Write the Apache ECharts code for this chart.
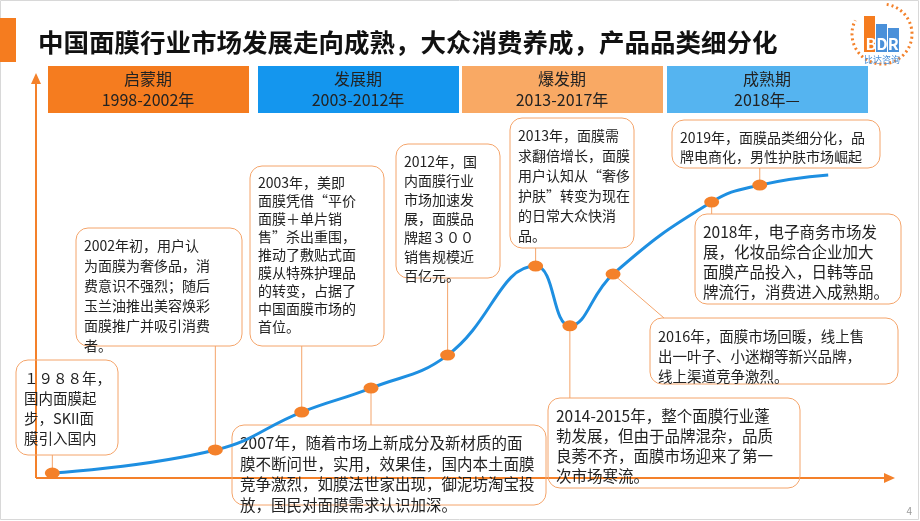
<!DOCTYPE html>
<html><head><meta charset="utf-8">
<script src="https://cdn.jsdelivr.net/npm/echarts@6/dist/echarts.min.js"></script>
<style>html,body{margin:0;padding:0;background:#fff}#main{width:920px;height:521px}</style>
</head><body><div id="main"></div>
<script>
// 时间轴位置 (0-100) 与 市场发展程度 (0-100)
var timelinePos = [0.9, 20.9, 31.5, 40, 49.4, 60.2, 64.4, 69.7, 81.8, 87.7, 96.1];
var marketLevel = [1.6, 9.1, 21.4, 29.2, 39.9, 68.8, 49.4, 66.2, 89.6, 95.1, 98.4];
var stageNames = ['启蒙期', '发展期', '爆发期', '成熟期'];
var stageYears = ['1998-2002年', '2003-2012年', '2013-2017年', '2018年—'];
var stageColors = ['#F57C1F', '#1496EE', '#F9A964', '#55B4F0'];
// 说明文字，pt 为对应的数据点下标
var notes = [
  {pt: 0, fs: 14.5, lh: 20, box: [16, 360, 102, 95], lines: ['１９８８年，', '国内面膜起', '步，SKII面', '膜引入国内']},
  {pt: 1, fs: 14, lh: 20, box: [76, 228, 166, 118], lines: ['2002年初，用户认', '为面膜为奢侈品，消', '费意识不强烈；随后', '玉兰油推出美容焕彩', '面膜推广并吸引消费', '者。']},
  {pt: 2, fs: 14, lh: 18, box: [250, 166, 134, 180], lines: ['2003年，美即', '面膜凭借“平价', '面膜＋单片销', '售”杀出重围，', '推动了敷贴式面', '膜从特殊护理品', '的转变，占据了', '中国面膜市场的', '首位。']},
  {pt: 3, fs: 15.5, lh: 20.5, box: [232, 425, 314, 80], lines: ['2007年，随着市场上新成分及新材质的面', '膜不断问世，实用，效果佳，国内本土面膜', '竞争激烈，如膜法世家出现，御泥坊淘宝投', '放，国民对面膜需求认识加深。']},
  {pt: 4, fs: 14, lh: 19, box: [396, 144, 104, 134], lines: ['2012年，国', '内面膜行业', '市场加速发', '展，面膜品', '牌超３００', '销售规模近', '百亿元。']},
  {pt: 5, fs: 14, lh: 20, box: [510, 118, 124, 130], lines: ['2013年，面膜需', '求翻倍增长，面膜', '用户认知从“奢侈', '护肤”转变为现在', '的日常大众快消', '品。']},
  {pt: 6, fs: 15.5, lh: 20, box: [548, 398, 252, 90], lines: ['2014-2015年，整个面膜行业蓬', '勃发展，但由于品牌混杂，品质', '良莠不齐，面膜市场迎来了第一', '次市场寒流。']},
  {pt: 7, fs: 14.5, lh: 20, box: [650, 318, 248, 66], lines: ['2016年，面膜市场回暖，线上售', '出一叶子、小迷糊等新兴品牌，', '线上渠道竞争激烈。']},
  {pt: 8, fs: 15.5, lh: 20, box: [695, 214, 206, 90], lines: ['2018年，电子商务市场发', '展，化妆品综合企业加大', '面膜产品投入，日韩等品', '牌流行，消费进入成熟期。']},
  {pt: 9, fs: 14, lh: 19, box: [672, 120, 208, 48], lines: ['2019年，面膜品类细分化，品', '牌电商化，男性护肤市场崛起']}
];

var myChart = echarts.init(document.getElementById('main'));
var FONT = '"Noto Sans CJK SC", "Noto Sans", sans-serif';

var seriesData = [];
for (var i = 0; i < timelinePos.length; i++) {
  var d = {value: [timelinePos[i], marketLevel[i]]};
  if (i === timelinePos.length - 1) d.symbol = 'none';
  seriesData.push(d);
}

var option = {
  animation: false,
  grid: {left: 45, right: 60, top: 170, bottom: 43},
  xAxis: {type: 'value', min: 0, max: 100, show: false},
  yAxis: {type: 'value', min: 0, max: 100, show: false},
  series: [{
    type: 'line', smooth: 0.45, data: seriesData, z: 5,
    lineStyle: {color: '#1E8FE1', width: 3},
    symbol: 'circle', symbolSize: [15, 11],
    itemStyle: {color: '#F4812A'}
  }]
};
myChart.setOption(option);

var g = [];
// 外框
g.push({type: 'rect', shape: {x: 0.5, y: 0.5, width: 918, height: 519}, style: {fill: 'none', stroke: '#d8d8d8'}, z: 0});
// 标题
g.push({type: 'rect', shape: {x: 0, y: 18, width: 16, height: 44}, style: {fill: '#F57C1F'}});
g.push({type: 'text', x: 38, y: 42, style: {text: '中国面膜行业市场发展走向成熟，大众消费养成，产品品类细分化', font: 'bold 25.5px ' + FONT, fill: '#111', verticalAlign: 'middle'}});
// logo
g.push({type: 'arc', shape: {cx: 882, cy: 34, r: 30, startAngle: -Math.PI * 0.45, endAngle: Math.PI * 1.15}, style: {fill: 'none', stroke: '#F4812A', lineWidth: 3, lineDash: [2, 3]}});
g.push({type: 'rect', shape: {x: 864, y: 16, width: 11, height: 36}, style: {fill: '#F57C1F'}});
g.push({type: 'rect', shape: {x: 876, y: 24, width: 11, height: 28}, style: {fill: '#4A90D9'}});
g.push({type: 'rect', shape: {x: 888, y: 28, width: 11, height: 24}, style: {fill: '#4A90D9'}});
g.push({type: 'text', x: 882, y: 44, style: {text: 'BDR', font: 'bold 16px ' + FONT, fill: '#fff', align: 'center', verticalAlign: 'middle'}});
g.push({type: 'text', x: 882, y: 60, style: {text: '比达咨询', font: '9px ' + FONT, fill: '#4A90D9', align: 'center', verticalAlign: 'middle'}});
// 阶段
var stageX = [48, 258, 462, 667];
for (var s = 0; s < 4; s++) {
  g.push({type: 'rect', shape: {x: stageX[s], y: 66, width: 201, height: 47}, style: {fill: stageColors[s]}});
  g.push({type: 'text', x: stageX[s] + 100, y: 89, style: {text: stageNames[s] + '\n' + stageYears[s], font: '16px ' + FONT, lineHeight: 21, fill: '#222', align: 'center', verticalAlign: 'middle'}});
}
// 坐标轴
g.push({type: 'line', shape: {x1: 36, y1: 478, x2: 36, y2: 82}, style: {stroke: '#F4812A', lineWidth: 2}});
g.push({type: 'polygon', shape: {points: [[31, 84], [41, 84], [36, 73]]}, style: {fill: '#F4812A'}});
g.push({type: 'line', shape: {x1: 36, y1: 478, x2: 886, y2: 478}, style: {stroke: '#F4812A', lineWidth: 2}});
g.push({type: 'polygon', shape: {points: [[884, 473], [884, 483], [895, 478]]}, style: {fill: '#F4812A'}});
// 说明框
notes.forEach(function (n) {
  var b = n.box;
  var p = myChart.convertToPixel({gridIndex: 0}, [timelinePos[n.pt], marketLevel[n.pt]]);
  var ax = Math.min(Math.max(p[0], b[0] + 14), b[0] + b[2] - 14);
  var ay = p[1] < b[1] ? b[1] : b[1] + b[3];
  g.push({type: 'line', z: 1, shape: {x1: ax, y1: ay, x2: p[0], y2: p[1]}, style: {stroke: '#F4A46A', lineWidth: 1}});
  g.push({type: 'rect', z: 1, shape: {x: b[0], y: b[1], width: b[2], height: b[3], r: 12}, style: {fill: 'none', stroke: '#F4A46A', lineWidth: 1}});
  g.push({type: 'text', z: 2, x: b[0] + 8, y: b[1] + 8, style: {text: n.lines.join('\n'), font: n.fs + 'px ' + FONT, lineHeight: n.lh, fill: '#222'}});
});
g.push({type: 'text', x: 912, y: 506, style: {text: '4', font: '10px ' + FONT, fill: '#999', align: 'right'}});
myChart.setOption({graphic: g});
</script></body></html>
